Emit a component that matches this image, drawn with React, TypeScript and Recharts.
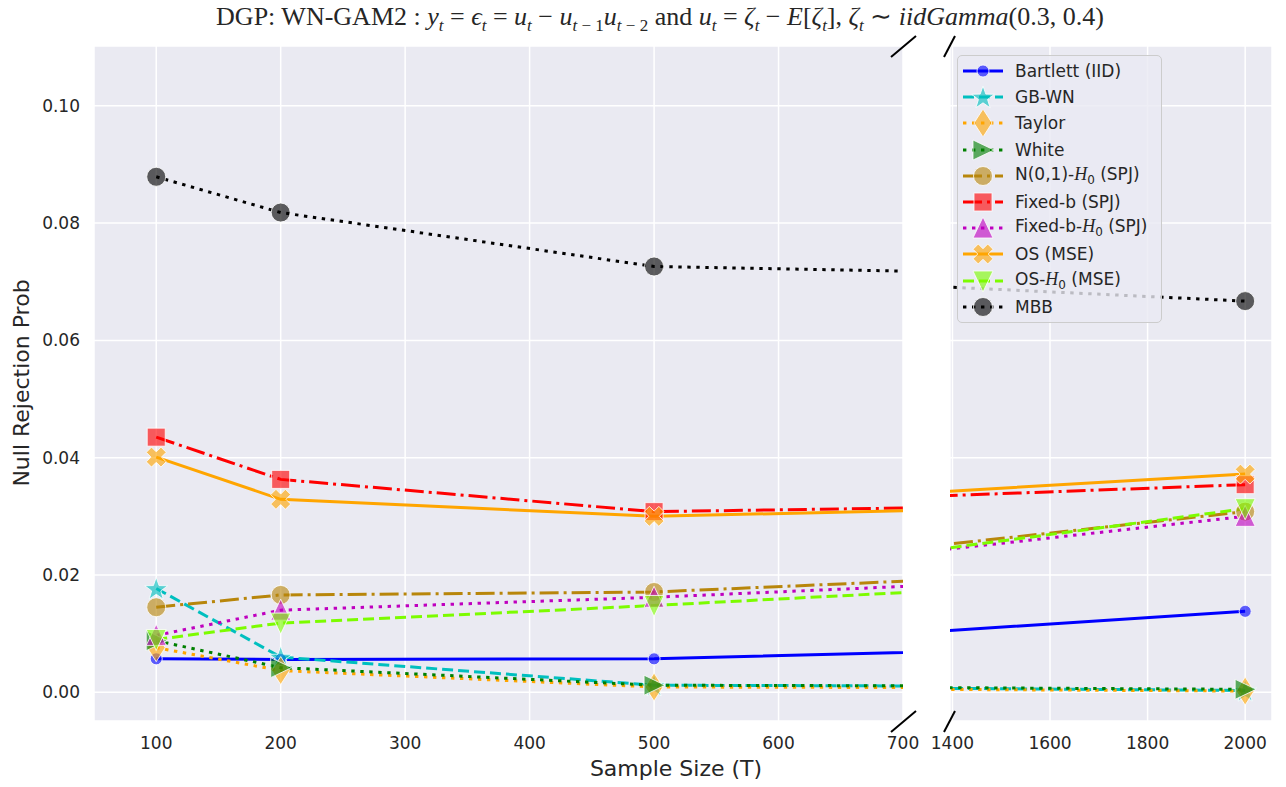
import React from 'react'
import { LineChart, Line, XAxis, YAxis, CartesianGrid } from 'recharts'

// sample sizes (T) and null rejection probabilities
const sampleSizes = [100, 200, 500, 2000]
const bartlett = [0.0057, 0.0056, 0.0057, 0.0138]
const gbWn = [0.0177, 0.006, 0.0012, 0.0003]
const taylor = [0.0076, 0.0037, 0.0009, 0.0002]
const white = [0.0088, 0.0042, 0.0012, 0.0005]
const n01H0 = [0.0145, 0.0166, 0.0171, 0.0308]
const fixedB = [0.0435, 0.0363, 0.0308, 0.0354]
const fixedBH0 = [0.0097, 0.014, 0.0162, 0.03]
const osMse = [0.0401, 0.0329, 0.03, 0.0372]
const osH0 = [0.009, 0.0118, 0.0148, 0.0313]
const mbb = [0.0879, 0.0818, 0.0726, 0.0667]

const leftTicks = [100, 200, 300, 400, 500, 600, 700]
const rightTicks = [1400, 1600, 1800, 2000]
const yTicks = [0, 0.02, 0.04, 0.06, 0.08, 0.1]

type MarkerKind = 'dot' | 'star' | 'diamond' | 'tri-right' | 'circle' | 'square' | 'tri-up' | 'x' | 'tri-down'

const H0 = (
  <>
    <i style={{ fontFamily: '"Liberation Serif", serif', fontSize: 18 }}>H</i>
    <sub style={{ fontSize: 12 }}>0</sub>
  </>
)

const series = [
  { key: 'bartlett', values: bartlett, label: <>Bartlett (IID)</>, color: '#0000ff', dash: undefined, marker: 'dot' as MarkerKind },
  { key: 'gbWn', values: gbWn, label: <>GB-WN</>, color: '#00bfbf', dash: '11 5', marker: 'star' as MarkerKind },
  { key: 'taylor', values: taylor, label: <>Taylor</>, color: '#ffa500', dash: '3.4 5.6', marker: 'diamond' as MarkerKind },
  { key: 'white', values: white, label: <>White</>, color: '#008000', dash: '3.4 5.6', marker: 'tri-right' as MarkerKind },
  { key: 'n01H0', values: n01H0, label: <>N(0,1)-{H0} (SPJ)</>, color: '#b8860b', dash: '19 5 3 5', marker: 'circle' as MarkerKind },
  { key: 'fixedB', values: fixedB, label: <>Fixed-b (SPJ)</>, color: '#ff0000', dash: '19 5 3 5', marker: 'square' as MarkerKind },
  { key: 'fixedBH0', values: fixedBH0, label: <>Fixed-b-{H0} (SPJ)</>, color: '#bf00bf', dash: '3.4 5.6', marker: 'tri-up' as MarkerKind },
  { key: 'osMse', values: osMse, label: <>OS (MSE)</>, color: '#ffa500', dash: undefined, marker: 'x' as MarkerKind },
  { key: 'osH0', values: osH0, label: <>OS-{H0} (MSE)</>, color: '#7cfc00', dash: '11 5', marker: 'tri-down' as MarkerKind },
  { key: 'mbb', values: mbb, label: <>MBB</>, color: '#000000', dash: '3.4 5.6', marker: 'circle' as MarkerKind },
]

const data = sampleSizes.map((T, i) => {
  const row: Record<string, number> = { T }
  series.forEach((s) => {
    row[s.key] = s.values[i]
  })
  return row
})

function Marker({ kind, cx, cy, color }: { kind: MarkerKind; cx: number; cy: number; color: string }) {
  const st = { fill: color, fillOpacity: 0.62, stroke: '#ffffff', strokeOpacity: 0.8, strokeWidth: 1 }
  const poly = (pts: number[][]) => (
    <polygon points={pts.map(([x, y]) => `${cx + x},${cy + y}`).join(' ')} {...st} />
  )
  switch (kind) {
    case 'dot':
      return <circle cx={cx} cy={cy} r={6} {...st} />
    case 'circle':
      return <circle cx={cx} cy={cy} r={9.5} {...st} />
    case 'square':
      return <rect x={cx - 9} y={cy - 9} width={18} height={18} {...st} />
    case 'diamond':
      return poly([[0, -14], [9, 0], [0, 14], [-9, 0]])
    case 'tri-up':
      return poly([[0, -11], [10, 10], [-10, 10]])
    case 'tri-down':
      return poly([[0, 11], [10, -10], [-10, -10]])
    case 'tri-right':
      return poly([[11, 0], [-10, -10], [-10, 10]])
    case 'star': {
      const pts: number[][] = []
      for (let k = 0; k < 10; k++) {
        const r = k % 2 === 0 ? 12 : 4.8
        const a = -Math.PI / 2 + (k * Math.PI) / 5
        pts.push([r * Math.cos(a), r * Math.sin(a) + 1])
      }
      return poly(pts)
    }
    case 'x': {
      const s = 10.4
      const t = 3.7
      const plus = [[t, -s], [t, -t], [s, -t], [s, t], [t, t], [t, s], [-t, s], [-t, t], [-s, t], [-s, -t], [-t, -t], [-t, -s]]
      const c = Math.SQRT1_2
      return poly(plus.map(([x, y]) => [c * (x - y), c * (x + y)]))
    }
  }
  return null
}

const tickStyle = { fontSize: 17, fill: '#262626', fontFamily: '"DejaVu Sans", sans-serif' }

function Panel({ domain, ticks, showY, margin, width }: {
  domain: [number, number]
  ticks: number[]
  showY: boolean
  margin: { top: number; right: number; bottom: number; left: number }
  width: number
}) {
  return (
    <LineChart width={width} height={787} data={data} margin={margin}>
      <CartesianGrid fill="#eaeaf2" fillOpacity={1} stroke="#ffffff" strokeWidth={1.5} />
      <XAxis
        dataKey="T"
        type="number"
        domain={domain}
        allowDataOverflow
        ticks={ticks}
        interval={0}
        axisLine={false}
        tickLine={false}
        tickSize={6}
        tickMargin={10}
        height={66}
        tick={tickStyle}
      />
      <YAxis
        type="number"
        domain={[-0.0049, 0.1102]}
        allowDataOverflow
        ticks={yTicks}
        interval={0}
        hide={!showY}
        width={60}
        axisLine={false}
        tickLine={false}
        tickSize={6}
        tickMargin={8}
        tick={tickStyle}
        tickFormatter={(v: number) => v.toFixed(2)}
      />
      {series.map((s) => (
        <Line
          key={s.key}
          type="linear"
          dataKey={s.key}
          stroke={s.color}
          strokeWidth={3}
          strokeDasharray={s.dash}
          isAnimationActive={false}
          activeDot={false}
          legendType="none"
          dot={(p: any) => (
            <Marker key={`${s.key}-${p.index}`} kind={s.marker} cx={p.cx} cy={p.cy} color={s.color} />
          )}
        />
      ))}
    </LineChart>
  )
}

function LegendBox() {
  return (
    <div
      style={{
        position: 'absolute',
        left: 957,
        top: 55,
        width: 205,
        height: 268,
        boxSizing: 'border-box',
        background: 'rgba(234,234,242,0.8)',
        border: '1.5px solid #cccccc',
        borderRadius: 5,
        fontFamily: '"DejaVu Sans", sans-serif',
        fontSize: 17,
        color: '#262626',
      }}
    >
      {series.map((s, i) => (
        <div key={s.key} style={{ position: 'absolute', left: 0, top: 2 + i * 26.2, height: 26, display: 'flex', alignItems: 'center', whiteSpace: 'nowrap' }}>
          <svg width={52} height={26} style={{ flex: 'none' }}>
            <line x1={5} y1={13} x2={45} y2={13} stroke={s.color} strokeWidth={3} strokeDasharray={s.dash} />
            <Marker kind={s.marker} cx={25} cy={13} color={s.color} />
          </svg>
          <span style={{ marginLeft: 5 }}>{s.label}</span>
        </div>
      ))}
    </div>
  )
}

export default function App() {
  const mi = { fontStyle: 'italic' as const }
  const sb = { fontSize: 17 }
  return (
    <div style={{ position: 'absolute', left: 0, top: 0, width: 1286, height: 787, background: '#ffffff' }}>
      <div style={{ position: 'absolute', left: 0, top: 0 }}>
        <Panel domain={[50, 700]} ticks={leftTicks} showY margin={{ top: 46, right: 27, bottom: 0, left: 34 }} width={930} />
      </div>
      <div style={{ position: 'absolute', left: 915, top: 0 }}>
        <Panel domain={[1395, 2055]} ticks={rightTicks} showY={false} margin={{ top: 46, right: 8, bottom: 0, left: 35 }} width={365} />
      </div>
      <LegendBox />
      <div
        style={{
          position: 'absolute',
          left: 0,
          top: 1,
          width: 1320,
          textAlign: 'center',
          whiteSpace: 'nowrap',
          fontFamily: '"Liberation Serif", serif',
          fontSize: 26,
          color: '#262626',
        }}
      >
        DGP: WN-GAM2 : <span style={mi}>y</span><sub style={sb}><i>t</i></sub> = <span style={mi}>ϵ</span><sub style={sb}><i>t</i></sub> ={' '}
        <span style={mi}>u</span><sub style={sb}><i>t</i></sub> − <span style={mi}>u</span><sub style={sb}><i>t</i> − 1</sub>
        <span style={mi}>u</span><sub style={sb}><i>t</i> − 2</sub> and <span style={mi}>u</span><sub style={sb}><i>t</i></sub> ={' '}
        <span style={mi}>ζ</span><sub style={sb}><i>t</i></sub> − <span style={mi}>E</span>[<span style={mi}>ζ</span><sub style={sb}><i>t</i></sub>],{' '}
        <span style={mi}>ζ</span><sub style={sb}><i>t</i></sub> ∼ <span style={mi}>iidGamma</span>(0.3, 0.4)
      </div>
      <svg width={1286} height={787} style={{ position: 'absolute', left: 0, top: 0, pointerEvents: 'none' }}>
        <g stroke="#000000" strokeWidth={2}>
          <line x1={891} y1={57} x2={916} y2={36} />
          <line x1={944} y1={57} x2={955} y2={36} />
          <line x1={891} y1={732} x2={916} y2={711} />
          <line x1={944} y1={732} x2={955} y2={711} />
        </g>
        <text x={676} y={776} textAnchor="middle" fontSize={22} fill="#262626" fontFamily='"DejaVu Sans", sans-serif'>
          Sample Size (T)
        </text>
        <text
          x={29}
          y={383}
          textAnchor="middle"
          fontSize={22}
          fill="#262626"
          fontFamily='"DejaVu Sans", sans-serif'
          transform="rotate(-90 29 383)"
        >
          Null Rejection Prob
        </text>
      </svg>
    </div>
  )
}
